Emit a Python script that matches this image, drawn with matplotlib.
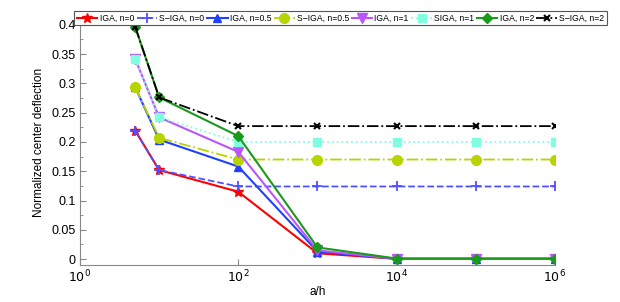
import numpy as np
import matplotlib
matplotlib.use('Agg')
import matplotlib.pyplot as plt

plt.rcParams['font.family'] = ['Liberation Sans', 'DejaVu Sans']

# a/h values
ah = [5, 10, 100, 1e3, 1e4, 1e5, 1e6]

# center deflection for each case
iga_n0 = [0.219, 0.152, 0.115, 0.010, 0.0005, 0.0005, 0.0005]
siga_n0 = [0.219, 0.152, 0.124, 0.124, 0.124, 0.124, 0.124]
iga_n05 = [0.293, 0.204, 0.158, 0.013, 0.0005, 0.0005, 0.0005]
siga_n05 = [0.293, 0.207, 0.170, 0.170, 0.170, 0.170, 0.170]
iga_n1 = [0.341, 0.242, 0.183, 0.015, 0.0005, 0.0005, 0.0005]
siga_n1 = [0.341, 0.242, 0.200, 0.200, 0.200, 0.200, 0.200]
iga_n2 = [0.396, 0.276, 0.210, 0.020, 0.001, 0.001, 0.001]
siga_n2 = [0.396, 0.276, 0.227, 0.227, 0.227, 0.227, 0.227]

labels = ['IGA, n=0', 'S\u2212IGA, n=0', 'IGA, n=0.5', 'S\u2212IGA, n=0.5',
          'IGA, n=1', 'SIGA, n=1', 'IGA, n=2', 'S\u2212IGA, n=2']

fig = plt.figure(figsize=(6.2, 3.02), dpi=100)
ax = fig.add_axes([0.129, 0.1225, 0.766, 0.815])

ax.plot(ah, iga_n0, '-', color='#ff0000', marker='*', ms=7, lw=1.5, label=labels[0])
ax.plot(ah, siga_n0, '--', color='#5050ff', marker='+', ms=7, mew=1.3, lw=1.3, label=labels[1])
ax.plot(ah, iga_n05, '-', color='#2040ff', marker='^', ms=6, lw=1.5, label=labels[2])
ax.plot(ah, siga_n05, '-.', color='#b8d400', marker='o', ms=7, lw=1.3, label=labels[3])
ax.plot(ah, iga_n1, '-', color='#bb55ff', marker='v', ms=7, lw=1.5, label=labels[4])
ax.plot(ah, siga_n1, ':', color='#80ffe0', marker='s', ms=6, lw=1.3, label=labels[5])
ax.plot(ah, iga_n2, '-', color='#1a9a1a', marker='D', ms=5.5, lw=1.5, label=labels[6])
ax.plot(ah, siga_n2, '-.', color='black', marker='x', ms=5, mew=1.5, lw=1.3, label=labels[7])

ax.set_xscale('log')
ax.set_xlim(1, 1e6)
ax.set_ylim(-0.01, 0.41)
ax.set_xticks([1, 1e2, 1e4, 1e6])
ax.set_xticklabels(['$10^{0}$', '$10^{2}$', '$10^{4}$', '$10^{6}$'])
ax.xaxis.set_minor_locator(matplotlib.ticker.NullLocator())
ax.set_yticks(np.arange(0, 0.401, 0.05))
ax.set_yticklabels(['0', '0.05', '0.1', '0.15', '0.2', '0.25', '0.3', '0.35', '0.4'])
ax.set_yticks(np.arange(0.025, 0.4, 0.05), minor=True)
ax.tick_params(direction='in', labelsize=9, length=4, color='#888888', pad=3)
ax.tick_params(which='minor', direction='in', length=2, color='#888888')

for s in ['top', 'right']:
    ax.spines[s].set_visible(False)
for s in ['left', 'bottom']:
    ax.spines[s].set_color('#888888')

ax.set_xlabel('a/h', fontsize=8.5, labelpad=0)
ax.set_ylabel('Normalized center deflection', fontsize=8.5, labelpad=5)

leg = fig.legend(loc='upper right', bbox_to_anchor=(607 / 620, 1 - 11 / 302),
                 ncol=8, fontsize=6.2, handlelength=2.4,
                 handletextpad=0.25, columnspacing=0.3, borderpad=0.3,
                 borderaxespad=0, fancybox=False, framealpha=1)
leg.get_frame().set_edgecolor('#555555')
leg.get_frame().set_linewidth(0.8)

fig.savefig('out.png', dpi=100)
